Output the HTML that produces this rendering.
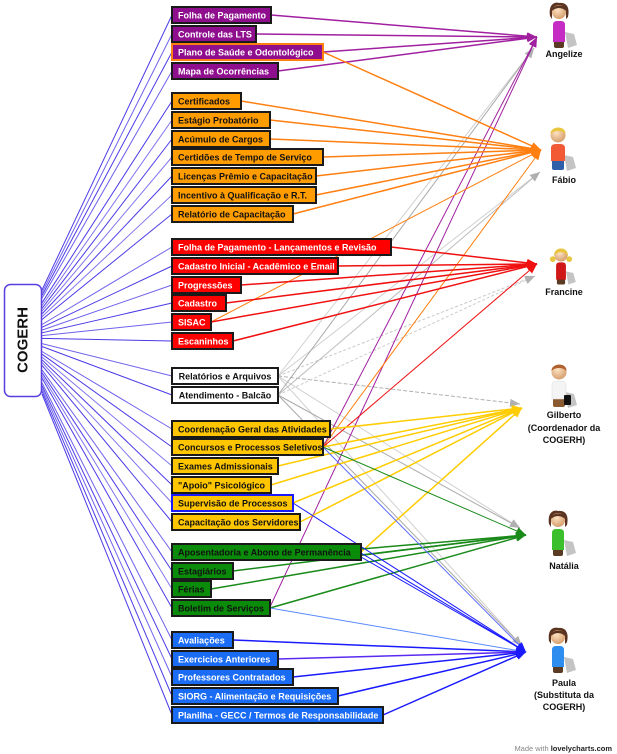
<!DOCTYPE html>
<html><head><meta charset="utf-8"><style>
html,body{margin:0;padding:0;background:#fff;}
svg{display:block;}
text{font-family:"Liberation Sans",sans-serif;}
.b{font-size:9px;font-weight:bold;}
</style></head><body>
<svg width="617" height="754" viewBox="0 0 617 754" xmlns="http://www.w3.org/2000/svg">
<defs>
<radialGradient id="skin" cx="0.4" cy="0.35" r="0.7"><stop offset="0" stop-color="#fde3c4"/><stop offset="1" stop-color="#d49a68"/></radialGradient>
<marker id="mP" markerUnits="userSpaceOnUse" markerWidth="11" markerHeight="8" refX="10" refY="4" orient="auto"><path d="M0,0 L10,4 L0,8 z" fill="#a0209f"/></marker>
<marker id="mO" markerUnits="userSpaceOnUse" markerWidth="11" markerHeight="8" refX="10" refY="4" orient="auto"><path d="M0,0 L10,4 L0,8 z" fill="#ff7f10"/></marker>
<marker id="mR" markerUnits="userSpaceOnUse" markerWidth="11" markerHeight="8" refX="10" refY="4" orient="auto"><path d="M0,0 L10,4 L0,8 z" fill="#f01010"/></marker>
<marker id="mY" markerUnits="userSpaceOnUse" markerWidth="11" markerHeight="8" refX="10" refY="4" orient="auto"><path d="M0,0 L10,4 L0,8 z" fill="#ffcc00"/></marker>
<marker id="mG" markerUnits="userSpaceOnUse" markerWidth="11" markerHeight="8" refX="10" refY="4" orient="auto"><path d="M0,0 L10,4 L0,8 z" fill="#1a8a1a"/></marker>
<marker id="mB" markerUnits="userSpaceOnUse" markerWidth="11" markerHeight="8" refX="10" refY="4" orient="auto"><path d="M0,0 L10,4 L0,8 z" fill="#1a1aff"/></marker>
<marker id="mX" markerUnits="userSpaceOnUse" markerWidth="11" markerHeight="8" refX="10" refY="4" orient="auto"><path d="M0,0 L10,4 L0,8 z" fill="#b0b0b0"/></marker>
</defs>

<!-- fan lines from COGERH -->
<g stroke="#4b3be6" stroke-width="1" fill="none">
<line x1="42" y1="290" x2="172" y2="15"/>
<line x1="42" y1="292.8" x2="172" y2="34" opacity=".8"/>
<line x1="42" y1="295.5" x2="172" y2="52"/>
<line x1="42" y1="298.3" x2="172" y2="71" opacity=".8"/>
<line x1="42" y1="302.8" x2="172" y2="101"/>
<line x1="42" y1="305.6" x2="172" y2="120" opacity=".7"/>
<line x1="42" y1="308.4" x2="172" y2="139"/>
<line x1="42" y1="311.1" x2="172" y2="157" opacity=".7"/>
<line x1="42" y1="313.9" x2="172" y2="176"/>
<line x1="42" y1="316.7" x2="172" y2="195" opacity=".7"/>
<line x1="42" y1="319.5" x2="172" y2="214"/>
<line x1="42" y1="324.5" x2="172" y2="247" opacity=".8"/>
<line x1="42" y1="327.3" x2="172" y2="266"/>
<line x1="42" y1="330.1" x2="172" y2="285" opacity=".8"/>
<line x1="42" y1="332.8" x2="172" y2="303"/>
<line x1="42" y1="335.6" x2="172" y2="322" opacity=".8"/>
<line x1="42" y1="338.4" x2="172" y2="341"/>
<line x1="42" y1="343.6" x2="172" y2="376" opacity=".8"/>
<line x1="42" y1="346.5" x2="172" y2="395"/>
<line x1="42" y1="351.5" x2="172" y2="429" opacity=".8"/>
<line x1="42" y1="354.2" x2="172" y2="447"/>
<line x1="42" y1="357" x2="172" y2="466" opacity=".7"/>
<line x1="42" y1="359.8" x2="172" y2="485"/>
<line x1="42" y1="362.5" x2="172" y2="503" opacity=".7"/>
<line x1="42" y1="365.3" x2="172" y2="522"/>
<line x1="42" y1="369.8" x2="172" y2="552" opacity=".8"/>
<line x1="42" y1="372.6" x2="172" y2="571"/>
<line x1="42" y1="375.3" x2="172" y2="589" opacity=".7"/>
<line x1="42" y1="378.1" x2="172" y2="608"/>
<line x1="42" y1="382.9" x2="172" y2="640" opacity=".8"/>
<line x1="42" y1="385.7" x2="172" y2="659"/>
<line x1="42" y1="388.4" x2="172" y2="677" opacity=".8"/>
<line x1="42" y1="391.2" x2="172" y2="696"/>
<line x1="42" y1="394" x2="172" y2="715"/>
</g>

<!-- gray connectors -->
<g stroke-width="1" fill="none" marker-end="url(#mX)">
<line x1="278" y1="376" x2="534" y2="48" stroke="#d0d0d0"/>
<line x1="278" y1="376" x2="540" y2="172" stroke="#d0d0d0"/>
<line x1="278" y1="376" x2="535" y2="276" stroke="#c8c8c8" stroke-dasharray="3,2"/>
<line x1="278" y1="376" x2="520" y2="404" stroke="#b0b0b0" stroke-dasharray="4,2"/>
<line x1="278" y1="376" x2="520" y2="528" stroke="#d0d0d0"/>
<line x1="278" y1="376" x2="522" y2="646" stroke="#d0d0d0"/>
<line x1="278" y1="395" x2="534" y2="48" stroke="#aaaaaa"/>
<line x1="278" y1="395" x2="540" y2="172" stroke="#bbbbbb"/>
<line x1="278" y1="395" x2="535" y2="276" stroke="#cccccc" stroke-dasharray="3,2"/>
<line x1="278" y1="395" x2="520" y2="528" stroke="#aaaaaa"/>
<line x1="278" y1="395" x2="522" y2="646" stroke="#aaaaaa"/>
</g>

<!-- purple -->
<g stroke="#a0209f" fill="none" marker-end="url(#mP)">
<line x1="271" y1="15" x2="537" y2="37" stroke-width="1.5"/>
<line x1="256" y1="34" x2="537" y2="37" stroke-width="1.5"/>
<line x1="323" y1="52" x2="537" y2="37" stroke-width="1.5"/>
<line x1="278" y1="71" x2="537" y2="37" stroke-width="1.5"/>
<line x1="270" y1="607" x2="537" y2="37" stroke-width="1"/>
<line x1="323" y1="447" x2="537" y2="37" stroke-width="1"/>
</g>
<!-- orange -->
<g stroke="#ff7f10" fill="none" marker-end="url(#mO)" stroke-width="1.5">
<line x1="323" y1="52" x2="541" y2="150"/>
<line x1="241" y1="101" x2="541" y2="150"/>
<line x1="270" y1="120" x2="541" y2="150"/>
<line x1="270" y1="139" x2="541" y2="150"/>
<line x1="323" y1="157" x2="541" y2="150"/>
<line x1="316" y1="176" x2="541" y2="150"/>
<line x1="316" y1="195" x2="541" y2="150"/>
<line x1="293" y1="214" x2="541" y2="150"/>
<line x1="211" y1="322" x2="541" y2="150" stroke-width="1"/>
<line x1="323" y1="447" x2="541" y2="150" stroke-width="1"/>
</g>
<!-- red -->
<g stroke="#f01010" fill="none" marker-end="url(#mR)" stroke-width="1.5">
<line x1="391" y1="247" x2="537" y2="264"/>
<line x1="338" y1="266" x2="537" y2="264"/>
<line x1="241" y1="285" x2="537" y2="264"/>
<line x1="226" y1="303" x2="537" y2="264"/>
<line x1="211" y1="322" x2="537" y2="264"/>
<line x1="233" y1="341" x2="537" y2="264"/>
<line x1="323" y1="447" x2="537" y2="264" stroke-width="1"/>
</g>
<!-- yellow -->
<g stroke="#ffcc00" fill="none" marker-end="url(#mY)" stroke-width="1.5">
<line x1="330" y1="429" x2="522" y2="408"/>
<line x1="323" y1="447" x2="522" y2="408"/>
<line x1="278" y1="466" x2="522" y2="408"/>
<line x1="271" y1="485" x2="522" y2="408"/>
<line x1="293" y1="503" x2="522" y2="408"/>
<line x1="300" y1="522" x2="522" y2="408"/>
<line x1="361" y1="552" x2="522" y2="408"/>
</g>
<!-- green -->
<g stroke="#1a8a1a" fill="none" marker-end="url(#mG)" stroke-width="1.5">
<line x1="361" y1="549" x2="526" y2="535"/>
<line x1="361" y1="555" x2="526" y2="535"/>
<line x1="233" y1="571" x2="526" y2="535"/>
<line x1="211" y1="589" x2="526" y2="535"/>
<line x1="270" y1="608" x2="526" y2="535"/>
<line x1="323" y1="447" x2="526" y2="535" stroke-width="1"/>
</g>
<!-- blue -->
<g stroke="#1a1aff" fill="none" marker-end="url(#mB)" stroke-width="1.5">
<line x1="233" y1="640" x2="526" y2="652"/>
<line x1="278" y1="659" x2="526" y2="652" stroke="#5a2af0"/>
<line x1="293" y1="677" x2="526" y2="652"/>
<line x1="338" y1="696" x2="526" y2="652"/>
<line x1="383" y1="715" x2="526" y2="652"/>
<line x1="293" y1="503" x2="526" y2="652" stroke-width="1"/>
<line x1="361" y1="553" x2="526" y2="652" stroke-width="1"/>
<line x1="361" y1="557" x2="526" y2="652" stroke-width="1"/>
<line x1="323" y1="447" x2="526" y2="652" stroke-width="1" stroke="#5a6aff"/>
<line x1="270" y1="608" x2="526" y2="652" stroke-width="1" stroke="#5a8aff"/>
</g>

<!-- COGERH box -->
<rect x="4.5" y="284.5" width="37" height="112" rx="6" fill="#fff" stroke="#5a3fe0" stroke-width="1.5"/>
<text x="0" y="0" transform="translate(23,340) rotate(-90)" text-anchor="middle" dominant-baseline="central" font-size="15" font-weight="bold" fill="#111">COGERH</text>

<!-- boxes -->
<g stroke="#1a1a1a" stroke-width="2">
<rect x="172" y="7" width="99" height="16" fill="#8e0e8e"/>
<rect x="172" y="26" width="84" height="16" fill="#8e0e8e"/>
<rect x="172" y="44" width="151" height="16" fill="#8e0e8e" stroke="#ff7f10"/>
<rect x="172" y="63" width="106" height="16" fill="#8e0e8e"/>
<rect x="172" y="93" width="69" height="16" fill="#ff9c00"/>
<rect x="172" y="112" width="98" height="16" fill="#ff9c00"/>
<rect x="172" y="131" width="98" height="16" fill="#ff9c00"/>
<rect x="172" y="149" width="151" height="16" fill="#ff9c00"/>
<rect x="172" y="168" width="144" height="16" fill="#ff9c00"/>
<rect x="172" y="187" width="144" height="16" fill="#ff9c00"/>
<rect x="172" y="206" width="121" height="16" fill="#ff9c00"/>
<rect x="172" y="239" width="219" height="16" fill="#ff0000"/>
<rect x="172" y="258" width="166" height="16" fill="#ff0000"/>
<rect x="172" y="277" width="69" height="16" fill="#ff0000"/>
<rect x="172" y="295" width="54" height="16" fill="#ff0000"/>
<rect x="172" y="314" width="39" height="16" fill="#ff0000"/>
<rect x="172" y="333" width="61" height="16" fill="#ff0000"/>
<rect x="172" y="368" width="106" height="16" fill="#ffffff"/>
<rect x="172" y="387" width="106" height="16" fill="#ffffff"/>
<rect x="172" y="421" width="158" height="16" fill="#ffc600"/>
<rect x="172" y="439" width="151" height="16" fill="#ffc600"/>
<rect x="172" y="458" width="106" height="16" fill="#ffc600"/>
<rect x="172" y="477" width="99" height="16" fill="#ffc600"/>
<rect x="172" y="495" width="121" height="16" fill="#ffc600" stroke="#1a1aff"/>
<rect x="172" y="514" width="128" height="16" fill="#ffc600"/>
<rect x="172" y="544" width="189" height="16" fill="#0a8c0a"/>
<rect x="172" y="563" width="61" height="16" fill="#0a8c0a"/>
<rect x="172" y="581" width="39" height="16" fill="#0a8c0a"/>
<rect x="172" y="600" width="98" height="16" fill="#0a8c0a"/>
<rect x="172" y="632" width="61" height="16" fill="#1a6cf5"/>
<rect x="172" y="651" width="106" height="16" fill="#1a6cf5"/>
<rect x="172" y="669" width="121" height="16" fill="#1a6cf5"/>
<rect x="172" y="688" width="166" height="16" fill="#1a6cf5"/>
<rect x="172" y="707" width="211" height="16" fill="#1a6cf5"/>
</g>
<g class="b">
<g fill="#fff">
<text x="178" y="18.5">Folha de Pagamento</text>
<text x="178" y="37.5">Controle das LTS</text>
<text x="178" y="55.5">Plano de Saúde e Odontológico</text>
<text x="178" y="74.5">Mapa de Ocorrências</text>
</g>
<g fill="#111">
<text x="178" y="104.5">Certificados</text>
<text x="178" y="123.5">Estágio Probatório</text>
<text x="178" y="142.5">Acúmulo de Cargos</text>
<text x="178" y="160.5">Certidões de Tempo de Serviço</text>
<text x="178" y="179.5">Licenças Prêmio e Capacitação</text>
<text x="178" y="198.5">Incentivo à Qualificação e R.T.</text>
<text x="178" y="217.5">Relatório de Capacitação</text>
</g>
<g fill="#fff">
<text x="178" y="250.5">Folha de Pagamento - Lançamentos e Revisão</text>
<text x="178" y="269.5">Cadastro Inicial - Acadêmico e Email</text>
<text x="178" y="288.5">Progressões</text>
<text x="178" y="306.5">Cadastro</text>
<text x="178" y="325.5">SISAC</text>
<text x="178" y="344.5">Escaninhos</text>
</g>
<g fill="#111">
<text x="225" y="379.5" text-anchor="middle">Relatórios e Arquivos</text>
<text x="225" y="398.5" text-anchor="middle">Atendimento - Balcão</text>
<text x="178" y="432.5">Coordenação Geral das Atividades</text>
<text x="178" y="450.5">Concursos e Processos Seletivos</text>
<text x="178" y="469.5">Exames Admissionais</text>
<text x="178" y="488.5">"Apoio" Psicológico</text>
<text x="178" y="506.5">Supervisão de Processos</text>
<text x="178" y="525.5">Capacitação dos Servidores</text>
<text x="178" y="555.5">Aposentadoria e Abono de Permanência</text>
<text x="178" y="574.5">Estagiários</text>
<text x="178" y="592.5">Férias</text>
<text x="178" y="611.5">Boletim de Serviços</text>
</g>
<g fill="#fff">
<text x="178" y="643.5">Avaliações</text>
<text x="178" y="662.5">Exercicios Anteriores</text>
<text x="178" y="680.5">Professores Contratados</text>
<text x="178" y="699.5">SIORG - Alimentação e Requisições</text>
<text x="178" y="718.5">Planilha - GECC / Termos de Responsabilidade</text>
</g>
</g>

<!-- people -->
<!-- Angelize -->
<g transform="translate(559,12)">
<path d="M6,20 L15,22 L18,33 L9,36 Z" fill="#c4c4c4"/>
<rect x="-5" y="27" width="10" height="9" rx="2" fill="#5a3a22"/>
<path d="M-6,13 Q-6,9 -2,9 L2,9 Q6,9 6,13 L6,30 L-6,30 Z" fill="#c42cc4"/>
<path d="M-9,4 C-11,-10 -2,-10 0,-9 C8,-10 11,-4 9,5 L7,7 L7,-2 C4,-6 -4,-6 -7,-2 L-7,7 Z" fill="#5a3420"/>
<circle r="7" fill="url(#skin)"/>
<path d="M-7,-1 C-7,-8 7,-9 7,-1 C3,-5 -3,-5 -7,-1 Z" fill="#5a3420"/>
</g>
<!-- Fabio -->
<g transform="translate(558,135)">
<path d="M6,20 L15,22 L18,33 L9,36 Z" fill="#c4c4c4"/>
<rect x="-6" y="24" width="12" height="11" rx="2" fill="#2f5fa8"/>
<path d="M-7,13 Q-7,9 -2,9 L2,9 Q7,9 7,13 L7,26 L-7,26 Z" fill="#f25a35"/>
<circle r="7.5" fill="url(#skin)"/>
<path d="M-7.5,-1 C-8,-9 8,-10 7.5,-1 C4,-5 -4,-5 -7.5,-1 Z" fill="#e8c640"/>
</g>
<!-- Francine -->
<g transform="translate(561,255) scale(0.82)">
<path d="M6,20 L15,22 L18,33 L9,36 Z" fill="#c4c4c4"/>
<rect x="-5" y="27" width="10" height="9" rx="2" fill="#5a3a22"/>
<path d="M-6,13 Q-6,9 -2,9 L2,9 Q6,9 6,13 L6,30 L-6,30 Z" fill="#d01818"/>
<circle cx="-10" cy="5" r="3.5" fill="#e8c640"/>
<circle cx="10" cy="5" r="3.5" fill="#e8c640"/>
<circle r="8" fill="url(#skin)"/>
<path d="M-8.5,1 C-9,-11 9,-11 8.5,1 C4,-5 -4,-5 -8.5,1 Z" fill="#e8c640"/>
</g>
<!-- Gilberto -->
<g transform="translate(559,372)">
<path d="M6,20 L15,22 L18,33 L9,36 Z" fill="#c4c4c4"/>
<rect x="-6" y="25" width="12" height="10" rx="2" fill="#8a5a30"/>
<path d="M-7,13 Q-7,9 -2,9 L2,9 Q7,9 7,13 L7,27 L-7,27 Z" fill="#f4f4f4" stroke="#ddd" stroke-width="0.5"/>
<rect x="5" y="23" width="7" height="10" rx="1" fill="#111"/>
<circle r="7.5" fill="url(#skin)"/>
<path d="M-7.5,-1 C-8,-9 8,-10 7.5,-1 C4,-5 -4,-5 -7.5,-1 Z" fill="#b0602c"/>
</g>
<!-- Natalia -->
<g transform="translate(558,520)">
<path d="M6,20 L15,22 L18,33 L9,36 Z" fill="#c4c4c4"/>
<rect x="-5" y="27" width="10" height="9" rx="2" fill="#5a3a22"/>
<path d="M-6,13 Q-6,9 -2,9 L2,9 Q6,9 6,13 L6,30 L-6,30 Z" fill="#3cbf2c"/>
<path d="M-9,4 C-11,-10 -2,-10 0,-9 C8,-10 11,-4 9,5 L7,7 L7,-2 C4,-6 -4,-6 -7,-2 L-7,7 Z" fill="#5a3420"/>
<circle r="7" fill="url(#skin)"/>
<path d="M-7,-1 C-7,-8 7,-9 7,-1 C3,-5 -3,-5 -7,-1 Z" fill="#5a3420"/>
</g>
<!-- Paula -->
<g transform="translate(558,637)">
<path d="M6,20 L15,22 L18,33 L9,36 Z" fill="#c4c4c4"/>
<rect x="-5" y="27" width="10" height="9" rx="2" fill="#5a3a22"/>
<path d="M-6,13 Q-6,9 -2,9 L2,9 Q6,9 6,13 L6,30 L-6,30 Z" fill="#2e8ef0"/>
<path d="M-9,4 C-11,-10 -2,-10 0,-9 C8,-10 11,-4 9,5 L7,7 L7,-2 C4,-6 -4,-6 -7,-2 L-7,7 Z" fill="#5a3420"/>
<circle r="7" fill="url(#skin)"/>
<path d="M-7,-1 C-7,-8 7,-9 7,-1 C3,-5 -3,-5 -7,-1 Z" fill="#5a3420"/>
</g>

<!-- people labels -->
<g class="b" fill="#111" text-anchor="middle">
<text x="564" y="57">Angelize</text>
<text x="564" y="183">Fábio</text>
<text x="564" y="295">Francine</text>
<text x="564" y="418">Gilberto</text>
<text x="564" y="431">(Coordenador da</text>
<text x="564" y="443">COGERH)</text>
<text x="564" y="569">Natália</text>
<text x="564" y="686">Paula</text>
<text x="564" y="698">(Substituta da</text>
<text x="564" y="710">COGERH)</text>
</g>

<text x="612" y="751" font-size="7.5" text-anchor="end"><tspan fill="#888">Made with </tspan><tspan fill="#222" font-weight="bold">lovelycharts.com</tspan></text>
</svg>
</body></html>
